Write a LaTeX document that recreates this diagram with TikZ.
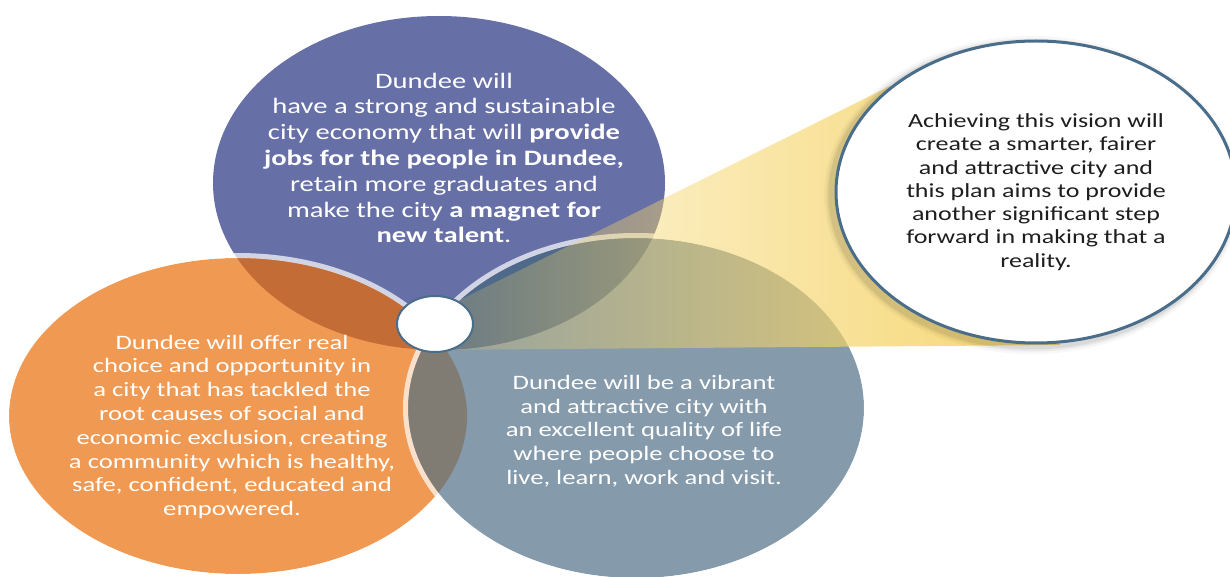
\documentclass[tikz,border=0pt]{standalone}
\usepackage{fontspec}
\setmainfont{Carlito}[FakeStretch=1.3]
\usetikzlibrary{fadings,shapes.geometric}

\definecolor{econpurple}{RGB}{103,112,166}
\definecolor{socorange}{RGB}{240,153,82}
\definecolor{lifeblue}{RGB}{133,154,171}
\definecolor{purporange}{RGB}{196,108,54}
\definecolor{orangeblue}{RGB}{128,124,116}
\definecolor{purpblue}{RGB}{79,105,138}
\definecolor{beamyellow}{RGB}{245,212,104}
\definecolor{rimteal}{RGB}{74,110,138}
\definecolor{visiontext}{RGB}{30,30,30}

\tikzfading[name=beamfade, left color=transparent!100, right color=transparent!0]

\tikzset{
  venntext/.style={text=white, align=center, inner sep=0pt,
    font=\fontsize{20.5}{23.8}\selectfont},
  rim/.style={white, opacity=0.7, line width=5pt},
  visionbox/.style={ellipse, draw=rimteal, line width=3pt, fill=white,
    minimum width=400pt, minimum height=302pt, inner sep=0pt,
    text=visiontext, align=center, font=\fontsize{20}{23.3}\selectfont}
}

\newcommand{\econell}{(439,183) ellipse [x radius=226, y radius=167]}
\newcommand{\socell}{(238,416) ellipse [x radius=229, y radius=158]}
\newcommand{\lifeell}{(636,408) ellipse [x radius=228, y radius=170]}

\begin{document}
\begin{tikzpicture}[x=1pt,y=-1pt]
\useasboundingbox (0,0) rectangle (1230,577);

% the three circles
\fill[econpurple] \econell;
\fill[socorange] \socell;
\begin{scope}
  \clip \socell;
  \fill[purporange] \econell;
\end{scope}
\draw[rim] (238,416) ellipse [x radius=231.5, y radius=160.5];
\fill[lifeblue] \lifeell;
\begin{scope}
  \clip \lifeell;
  \fill[orangeblue] \socell;
  \fill[purpblue] \econell;
\end{scope}
\draw[rim] (636,408) ellipse [x radius=230.5, y radius=172.5];

% beam towards the vision
\begin{scope}
  \clip (430,350) -- (460,300) -- (890,86) -- (1060,345) -- cycle;
  \fill[beamyellow, path fading=beamfade] (300,80) rectangle (1100,360);
\end{scope}

% centre
\fill[white] (435,324) ellipse [x radius=38, y radius=28];
\draw[rimteal, line width=2pt] (435,324) ellipse [x radius=38, y radius=28];

% vision callout
\foreach \w/\o in {16/0.03, 11/0.05, 7/0.07}
  \draw[black, opacity=\o, line width=\w pt] (1032,195) ellipse [x radius=200, y radius=151];
\node[visionbox] (vision) at (1036,192) {Achieving this vision will\\
  create a smarter, fairer\\ and attractive city and\\
  this plan aims to provide\\ another significant step\\
  forward in making that a\\ reality.};

% texts
\node[venntext, font=\fontsize{22}{25.8}\selectfont] (economy) at (444,158)
  {Dundee will\\ have a strong and sustainable\\
   city economy that will \textbf{provide}\\
   \textbf{jobs for the people in Dundee,}\\
   retain more graduates and\\
   make the city \textbf{a magnet for}\\
   \textbf{new talent}.};
\node[venntext] (social) at (232,427)
  {Dundee will offer real\\ choice and opportunity in\\
   a city that has tackled the\\ root causes of social and\\
   economic exclusion, creating\\ a community which is healthy,\\
   safe, confident, educated and\\ empowered.};
\node[venntext] (life) at (644,431)
  {Dundee will be a vibrant\\ and attractive city with\\
   an excellent quality of life\\ where people choose to\\
   live, learn, work and visit.};
\end{tikzpicture}
\end{document}
